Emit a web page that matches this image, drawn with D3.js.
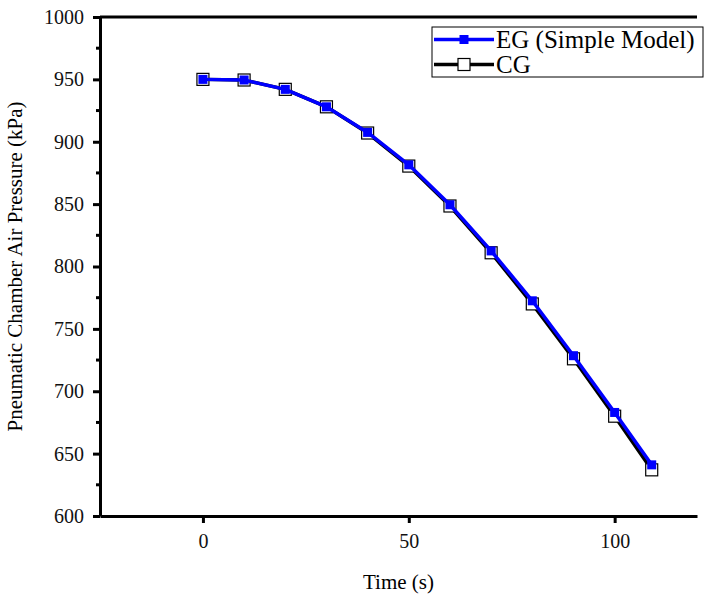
<!DOCTYPE html>
<html>
<head>
<meta charset="utf-8">
<script src="https://cdn.jsdelivr.net/npm/d3@7"></script>
<style>
  body { margin: 0; background: #fff; }
</style>
</head>
<body>
<div id="chart"></div>
<script>
// time in seconds
const times = [0, 10, 20, 30, 40, 50, 60, 70, 80, 90, 100, 109]
// EG (Simple Model)
const egValues = [950, 949.5, 942, 928, 907.5, 881.5, 849.5, 812.5, 772.5, 728.5, 683, 641]
// CG
const cgValues = [950, 949.5, 942, 928, 907, 880.5, 848.5, 811, 770, 726, 680, 637]

const xTicks = [0, 50, 100]
const yTicks = [600, 650, 700, 750, 800, 850, 900, 950, 1000]
const yMinor = [625, 675, 725, 775, 825, 875, 925, 975]

const seriesNames = ['EG (Simple Model)', 'CG']

const FONT = '"Liberation Serif", "Times New Roman", Times, serif'

// set the dimensions and margins of the graph
var margin = {top: 17, right: 13, bottom: 80, left: 100},
  width = 710 - margin.left - margin.right,
  height = 596 - margin.top - margin.bottom;

var svg = d3.select('#chart')
  .append('svg')
    .attr('width', 710)
    .attr('height', 596)
    .style('font-family', FONT)
  .append('g')
    .attr('transform', 'translate(' + margin.left + ',' + margin.top + ')');

var x = d3.scaleLinear().domain([-25, 120]).range([0, width]);
var y = d3.scaleLinear().domain([600, 1000]).range([height, 0]);

// top frame line
svg.append('line')
  .attr('x1', 0).attr('x2', width)
  .attr('y1', 0).attr('y2', 0)
  .attr('stroke', '#000').attr('stroke-width', 3);

// X axis
var xAxis = svg.append('g')
  .attr('transform', 'translate(0,' + height + ')')
  .call(d3.axisBottom(x).tickValues(xTicks).tickFormat(d3.format('d')).tickSize(7).tickSizeOuter(0).tickPadding(11));
xAxis.attr('font-family', null).attr('font-size', null);
xAxis.select('.domain').attr('stroke-width', 3);
xAxis.selectAll('.tick line').attr('stroke-width', 3);
xAxis.selectAll('.tick text').style('font-size', '20px').style('font-family', FONT).attr('fill', '#111');

// Y axis
var yAxis = svg.append('g')
  .call(d3.axisLeft(y).tickValues(yTicks).tickFormat(d3.format('d')).tickSize(7).tickSizeOuter(0).tickPadding(9));
yAxis.attr('font-family', null).attr('font-size', null);
yAxis.select('.domain').attr('stroke-width', 3);
yAxis.selectAll('.tick line').attr('stroke-width', 3);
yAxis.selectAll('.tick text').style('font-size', '20px').style('font-family', FONT).attr('fill', '#111');

// minor ticks on y
svg.append('g')
  .selectAll('line')
  .data(yMinor)
  .enter()
  .append('line')
    .attr('x1', -4).attr('x2', 0)
    .attr('y1', d => y(d)).attr('y2', d => y(d))
    .attr('stroke', '#000').attr('stroke-width', 3);

// lines
var cgData = times.map((t, i) => ({t: t, v: cgValues[i]}))
var egData = times.map((t, i) => ({t: t, v: egValues[i]}))

var line = d3.line().x(d => x(d.t)).y(d => y(d.v))

svg.append('path')
  .datum(cgData)
  .attr('d', line)
  .attr('fill', 'none')
  .attr('stroke', '#000')
  .attr('stroke-width', 3.5);

svg.append('g')
  .selectAll('rect')
  .data(cgData)
  .enter()
  .append('rect')
    .attr('x', d => x(d.t) - 6)
    .attr('y', d => y(d.v) - 6)
    .attr('width', 12).attr('height', 12)
    .attr('fill', '#fff')
    .attr('stroke', '#000')
    .attr('stroke-width', 1.2);

svg.append('path')
  .datum(egData)
  .attr('d', line)
  .attr('fill', 'none')
  .attr('stroke', '#0000ff')
  .attr('stroke-width', 3.5);

svg.append('g')
  .selectAll('rect')
  .data(egData)
  .enter()
  .append('rect')
    .attr('x', d => x(d.t) - 4.5)
    .attr('y', d => y(d.v) - 4.5)
    .attr('width', 9).attr('height', 9)
    .attr('fill', '#0000ff');

// axis titles
svg.append('text')
  .attr('x', width / 2)
  .attr('y', height + 73)
  .attr('text-anchor', 'middle')
  .style('font-family', FONT)
  .style('font-size', '21px')
  .text('Time (s)');

svg.append('text')
  .attr('transform', 'rotate(-90)')
  .attr('x', -height / 2)
  .attr('y', -78)
  .attr('text-anchor', 'middle')
  .style('font-family', FONT)
  .style('font-size', '21px')
  .text('Pneumatic Chamber Air Pressure (kPa)');

// LEGEND
var legend = svg.append('g')
  .attr('transform', 'translate(' + (432 - margin.left) + ',' + (27 - margin.top) + ')');

legend.append('rect')
  .attr('x', 0).attr('y', 0)
  .attr('width', 271).attr('height', 50)
  .attr('fill', '#fff')
  .attr('stroke', '#000')
  .attr('stroke-width', 1);

var legendItems = legend.selectAll('.legend-item')
  .data(seriesNames)
  .enter()
  .append('g')
  .attr('transform', (d, i) => `translate(0, ${12.5 + i * 25})`);

legendItems.append('line')
  .attr('x1', 2).attr('x2', 62)
  .attr('y1', 0).attr('y2', 0)
  .attr('stroke', (d, i) => i === 0 ? '#0000ff' : '#000')
  .attr('stroke-width', 3.5);

legendItems.append('rect')
  .attr('x', (d, i) => i === 0 ? 27.5 : 26)
  .attr('y', (d, i) => i === 0 ? -4.5 : -6)
  .attr('width', (d, i) => i === 0 ? 9 : 12)
  .attr('height', (d, i) => i === 0 ? 9 : 12)
  .attr('fill', (d, i) => i === 0 ? '#0000ff' : '#fff')
  .attr('stroke', (d, i) => i === 0 ? 'none' : '#000')
  .attr('stroke-width', 1.2);

legendItems.append('text')
  .attr('x', 64)
  .attr('y', 0)
  .attr('dy', '0.35em')
  .style('font-family', FONT)
  .style('font-size', '25px')
  .text(d => d);
</script>
</body>
</html>
